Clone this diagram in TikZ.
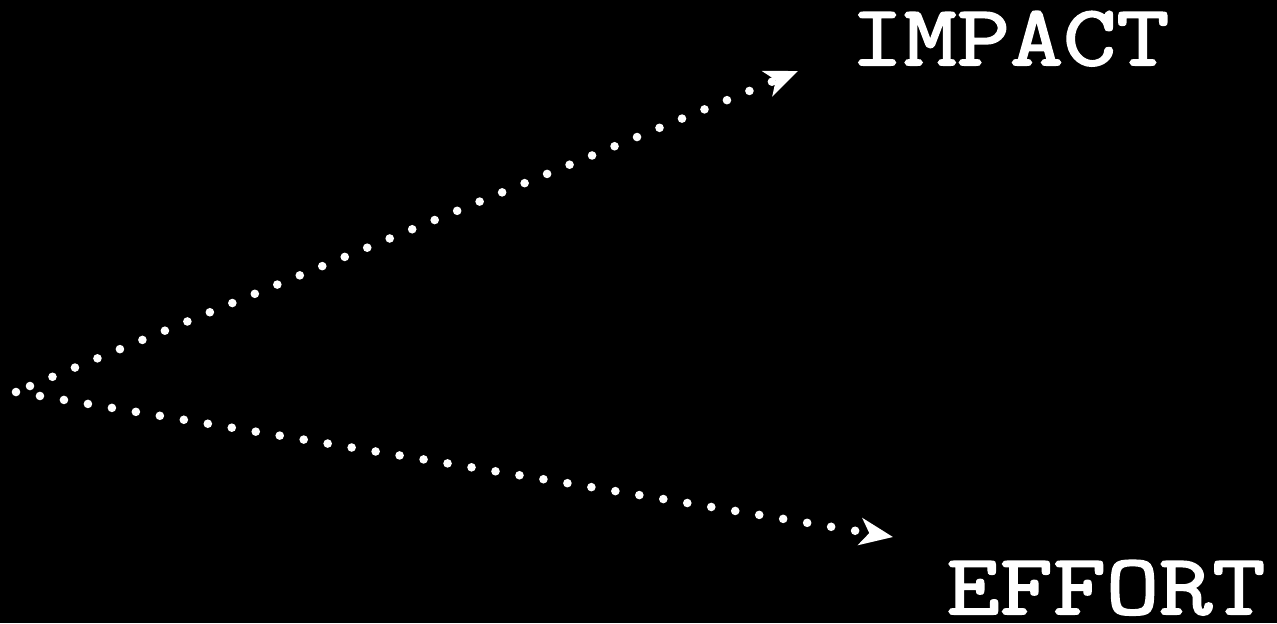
\documentclass[tikz,border=0pt]{standalone}
\usepackage{fontspec}
\newfontfamily\slabfont{Latin Modern Mono}[FakeStretch=1.2, FakeBold=2.3]
\usepackage{tikz}
\usetikzlibrary{arrows.meta,positioning,backgrounds}
\tikzset{
  dotflow/.style={white, line width=4.3pt, line cap=round,
                  dash pattern=on 0pt off 12.15pt,
                  -{Stealth[length=16.5pt,width=13.5pt,inset=4.5pt]}},
  bigword/.style={text=white, inner sep=0pt, anchor=base,
                  font=\slabfont\fontsize{43}{48}\selectfont},
}

\begin{document}
\begin{tikzpicture}[x=0.5pt, y=-0.5pt]
% ========================= canvas ========================================
\fill[black] (0,0) rectangle (1277,623);
\useasboundingbox (0,0) rectangle (1277,623);

% ========================= words =========================================
\node[bigword] at (1010,65)  (impact) {IMPACT};
\node[bigword] at (1106,614) (effort) {EFFORT};

% ========================= arrows ========================================
\coordinate (upstart) at (30,386);
\coordinate (lowstart) at (16,392);
\coordinate (uptip)  at (798,71);
\coordinate (lowtip) at (893,537);

\draw[dotflow] (upstart) -- (uptip);
\draw[dotflow] (lowstart) -- (lowtip);
\end{tikzpicture}
\end{document}
